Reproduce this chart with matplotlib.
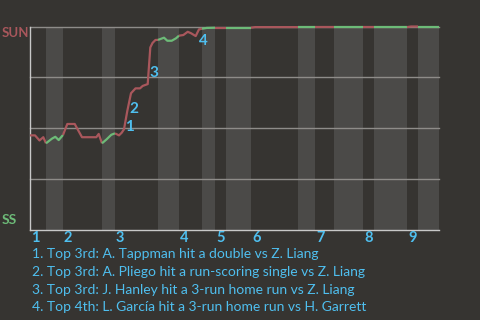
import matplotlib
matplotlib.use("Agg")
import matplotlib.pyplot as plt

BG = "#363431"
BAND = "#4b4a48"
GRID = "#8e8c89"
AXIS = "#c8c8c8"
RED = "#a9575c"
GREEN = "#6dbb78"
BLUE = "#4fbfef"

# half-inning edges along the game axis (top 1st starts at 0)
half_edges = [0, 16, 33, 72, 85, 128, 149, 172, 185, 196, 221, 268, 285, 304, 333, 344, 377, 388, 409]
inning_labels = ["1", "2", "3", "4", "5", "6", "7", "8", "9"]

# win probability for SUN (0 = SS wins, 1 = SUN wins)
wp_x = [0, 5, 9.5, 13.3, 16,
        22, 25.3, 28.7, 33,
        37.3, 44.7, 52, 66.3, 68.7, 72,
        76.7, 81.3, 85,
        89, 91.7, 94, 97.3, 101, 105.5, 110, 112.7, 117.7, 120.3, 122.5, 125.5, 128,
        134, 137.3, 141.7, 146, 149,
        153.3, 157.7, 161, 165.7, 169, 172,
        176.7, 185,
        196,
        221,
        225, 268,
        285,
        304,
        333,
        344,
        377,
        381, 388,
        409]
wp_y = [0.465, 0.465, 0.440, 0.456, 0.426,
        0.449, 0.458, 0.442, 0.467,
        0.521, 0.521, 0.456, 0.456, 0.472, 0.426,
        0.446, 0.468, 0.475,
        0.465, 0.478, 0.495, 0.585, 0.672, 0.696, 0.696, 0.708, 0.717, 0.897, 0.919, 0.934, 0.934,
        0.945, 0.930, 0.930, 0.942, 0.955,
        0.958, 0.974, 0.967, 0.953, 0.986, 0.989,
        0.993, 0.994,
        0.994,
        0.994,
        0.997, 0.997,
        0.997,
        0.997,
        0.997,
        0.997,
        0.997,
        1.0, 1.0,
        1.0]

# key plays: label position on the chart
event_x = [99.5, 104, 124, 173]
event_y = [0.506, 0.595, 0.772, 0.93]
event_text = [
    "1. Top 3rd: A. Tappman hit a double vs Z. Liang",
    "2. Top 3rd: A. Pliego hit a run-scoring single vs Z. Liang",
    "3. Top 3rd: J. Hanley hit a 3-run home run vs Z. Liang",
    "4. Top 4th: L. García hit a 3-run home run vs H. Garrett",
]

plt.rcParams["font.family"] = ["Lato", "DejaVu Sans"]

fig = plt.figure(figsize=(4.8, 3.2), dpi=100, facecolor=BG)
ax = fig.add_axes([30 / 480, 90 / 320, 409 / 480, 203.5 / 320])
ax.set_facecolor(BG)
ax.set_xlim(half_edges[0], half_edges[-1])
ax.set_ylim(0, 1)

# shade bottom halves
for i in range(1, len(half_edges) - 1, 2):
    ax.axvspan(half_edges[i], half_edges[i + 1], color=BAND, lw=0, zorder=0)

for g in [0.25, 0.5, 0.75, 1.0]:
    ax.axhline(g, color=GRID, lw=1, zorder=1, clip_on=False)

# line, coloured by half inning
for i in range(len(half_edges) - 1):
    lo, hi = half_edges[i], half_edges[i + 1]
    xs = [x for x in wp_x if lo <= x <= hi]
    ys = [y for x, y in zip(wp_x, wp_y) if lo <= x <= hi]
    ax.plot(xs, ys, color=RED if i % 2 == 0 else GREEN, lw=1.6, zorder=3,
            solid_capstyle="butt", clip_on=False)

for n, (x, y) in enumerate(zip(event_x, event_y)):
    ax.text(x, y, str(n + 1), color=BLUE, fontsize=11, fontweight="bold",
            ha="center", va="center", zorder=4)

for s in ["top", "right"]:
    ax.spines[s].set_visible(False)
for s in ["left", "bottom"]:
    ax.spines[s].set_color(AXIS)
    ax.spines[s].set_linewidth(1)
ax.set_xticks([])
ax.set_yticks([])

for lab, x in zip(inning_labels, half_edges[0::2]):
    ax.text(x + 1, -0.04, lab, color=BLUE, fontsize=10.5, fontweight="bold",
            ha="left", va="center", transform=ax.get_xaxis_transform())

fig.text(2 / 480, 1 - 33 / 320, "SUN", color=RED, fontsize=9.5, fontweight="bold", ha="left", va="center")
fig.text(2 / 480, 1 - 220 / 320, "SS", color=GREEN, fontsize=10, fontweight="bold", ha="left", va="center")

for i, t in enumerate(event_text):
    fig.text(32 / 480, 1 - (254.3 + 17.7 * i) / 320, t, color=BLUE, fontsize=10,
             ha="left", va="center")

fig.savefig("out.png", dpi=100, facecolor=BG)
